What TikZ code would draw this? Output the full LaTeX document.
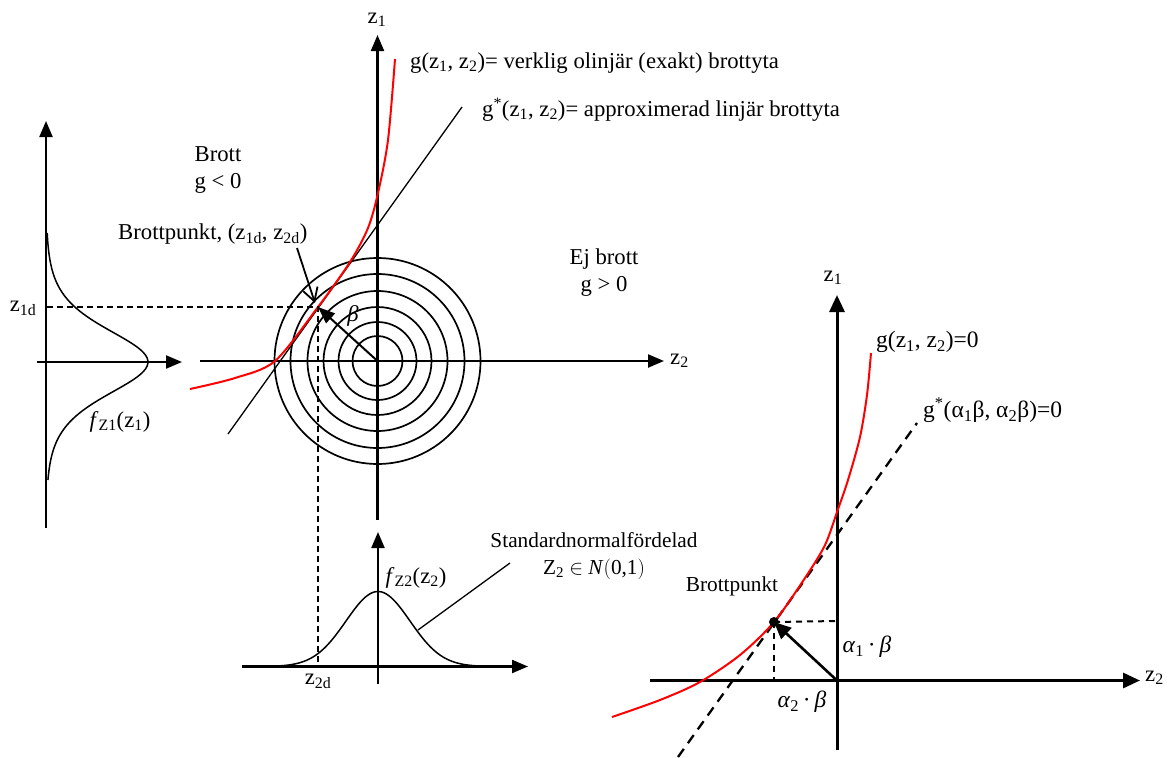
\documentclass[tikz,border=0pt]{standalone}
\usepackage{fontspec}
\setmainfont{Liberation Serif}
\usetikzlibrary{arrows.meta}

\begin{document}
\begin{tikzpicture}[x=1pt,y=-1pt,
    lbl/.style={font=\fontsize{22.7}{27}\selectfont,inner sep=0pt,align=center},
    smlbl/.style={lbl,font=\fontsize{21.3}{27}\selectfont},
    eqlbl/.style={lbl,font=\fontsize{23.5}{27}\selectfont},
    axis/.style={line width=2.2pt,-{Triangle[length=16pt,width=13pt]}},
    bigaxis/.style={line width=3pt,-{Triangle[length=17pt,width=15pt]}},
    ring/.style={line width=1.7pt},
    gline/.style={red,line width=2pt},
    helpline/.style={line width=1.6pt,dash pattern=on 6pt off 4pt}]
    \useasboundingbox (0,0) rectangle (1168,758);
    % left: density of z1
    \draw[axis](46, 528) -- (46, 121);
    \draw[axis](37, 362) -- (182, 362);
    \draw[line width=1.5pt] plot[domain=233:480,samples=90] ({46+102/(cosh((\x-362)/44.2))^2}, \x);
    % main plane with rings
    \coordinate (c0) at (377.5, 361);
    \coordinate (dp) at (318, 307);
    \foreach \r in {25,39,54,70,87,103}
        \draw[ring](c0) circle (\r pt);
    \draw[axis](377.5, 520) -- (377.5, 35);
    \draw[axis](200, 361) -- (664, 361);
    \draw[line width=1.3pt](228, 434) -- (462, 107);
    \draw[gline] plot[smooth] coordinates {(190, 389) (235, 378) (275, 361) (318, 307) (350, 262) (368, 228) (378, 193) (388, 140) (395, 59)};
    \draw[helpline](47, 307) -- (dp) -- (318, 666);
    \draw[line width=2pt,-{Triangle[length=17pt,width=13pt]}](c0) -- (dp);
    % bottom: density of z2
    \draw[axis](378, 684) -- (378, 532);
    \draw[axis](242, 666.5) -- (528, 666.5);
    \draw[line width=1.5pt] plot[domain=273:483,samples=90] (\x, {666.5-75*exp(-0.5*((\x-378)/32)^2)});
    \coordinate (lead) at (418, 630);
    % labels, left part
    \node[lbl] (z1a) at (377, 20) {z\textsubscript{1}};
    \node[lbl,anchor=west] (z2a) at (670, 361) {z\textsubscript{2}};
    \node[lbl,anchor=west] (gtxt) at (410, 63) {g(z\textsubscript{1}, z\textsubscript{2})= verklig olinjär (exakt) brottyta};
    \node[lbl,anchor=west] (gstxt) at (482, 110) {g\textsuperscript{*}(z\textsubscript{1}, z\textsubscript{2})= approximerad linjär brottyta};
    \node[lbl] (brott) at (218, 170) {Brott\\g {\textless} 0};
    \node[lbl] (ejbrott) at (604, 273) {Ej brott\\g {\textgreater} 0};
    \node[lbl,anchor=west] (bp) at (118, 234) {Brottpunkt, (z\textsubscript{1d}, z\textsubscript{2d})};
    \node[lbl] (z1d) at (23, 308) {z\textsubscript{1d}};
    \node[lbl] (z2d) at (318, 681) {z\textsubscript{2d}};
    \node[lbl] (fz1) at (120, 422) {\textit{f}\textsubscript{Z1}(z\textsubscript{1})};
    \node[lbl] (fz2) at (416, 578) {\textit{f}\textsubscript{Z2}(z\textsubscript{2})};
    \node[lbl] (beta) at (353, 316) {\textit{β}};
    \node[smlbl] (snd) at (594, 556) {Standardnormalfördelad\\Z\textsubscript{2} $\in$ \textit{N}\big(0,1\big)};
    \draw[line width=1.8pt,-{Straight Barb[length=13pt,width=15pt]}](297, 248) -- (315, 303);
    \draw[line width=1.3pt](lead) -- (510, 563);
    % right: linearised problem
    \coordinate (o) at (837, 680.5);
    \coordinate (pt) at (774, 622);
    \draw[bigaxis](837, 750) -- (837, 295);
    \draw[bigaxis](650, 680.5) -- (1140, 680.5);
    \draw[line width=2.3pt,dash pattern=on 10pt off 7pt](678, 757) -- (917, 423);
    \draw[gline] plot[smooth] coordinates {(612, 717) (660, 700) (700, 682) (740, 655) (774, 622) (805, 578) (825, 545) (837, 512) (848, 480) (860, 437) (867, 395) (871, 353)};
    \draw[line width=2pt,dash pattern=on 6pt off 5pt](pt) -- (837, 621);
    \draw[line width=2pt,dash pattern=on 6pt off 5pt](pt) -- (774, 680.5);
    \draw[line width=2.6pt,-{Triangle[length=17pt,width=15pt]}](o) -- (pt);
    \fill (pt) circle (5pt);
    \node[lbl] (z1b) at (833, 278) {z\textsubscript{1}};
    \node[lbl,anchor=west] (z2b) at (1145, 678) {z\textsubscript{2}};
    \node[eqlbl,anchor=west] (g0) at (876, 342) {g(z\textsubscript{1}, z\textsubscript{2})=0};
    \node[eqlbl,anchor=west] (gs0) at (923, 410) {g\textsuperscript{*}(α\textsubscript{1}β, α\textsubscript{2}β)=0};
    \node[smlbl] (bp2) at (732, 586) {Brottpunkt};
    \node[eqlbl] (a1b) at (867, 647) {\textit{α}\textsubscript{1}\,·\,\textit{β}};
    \node[eqlbl] (a2b) at (802, 702) {\textit{α}\textsubscript{2}\,·\,\textit{β}};
\end{tikzpicture}
\end{document}
